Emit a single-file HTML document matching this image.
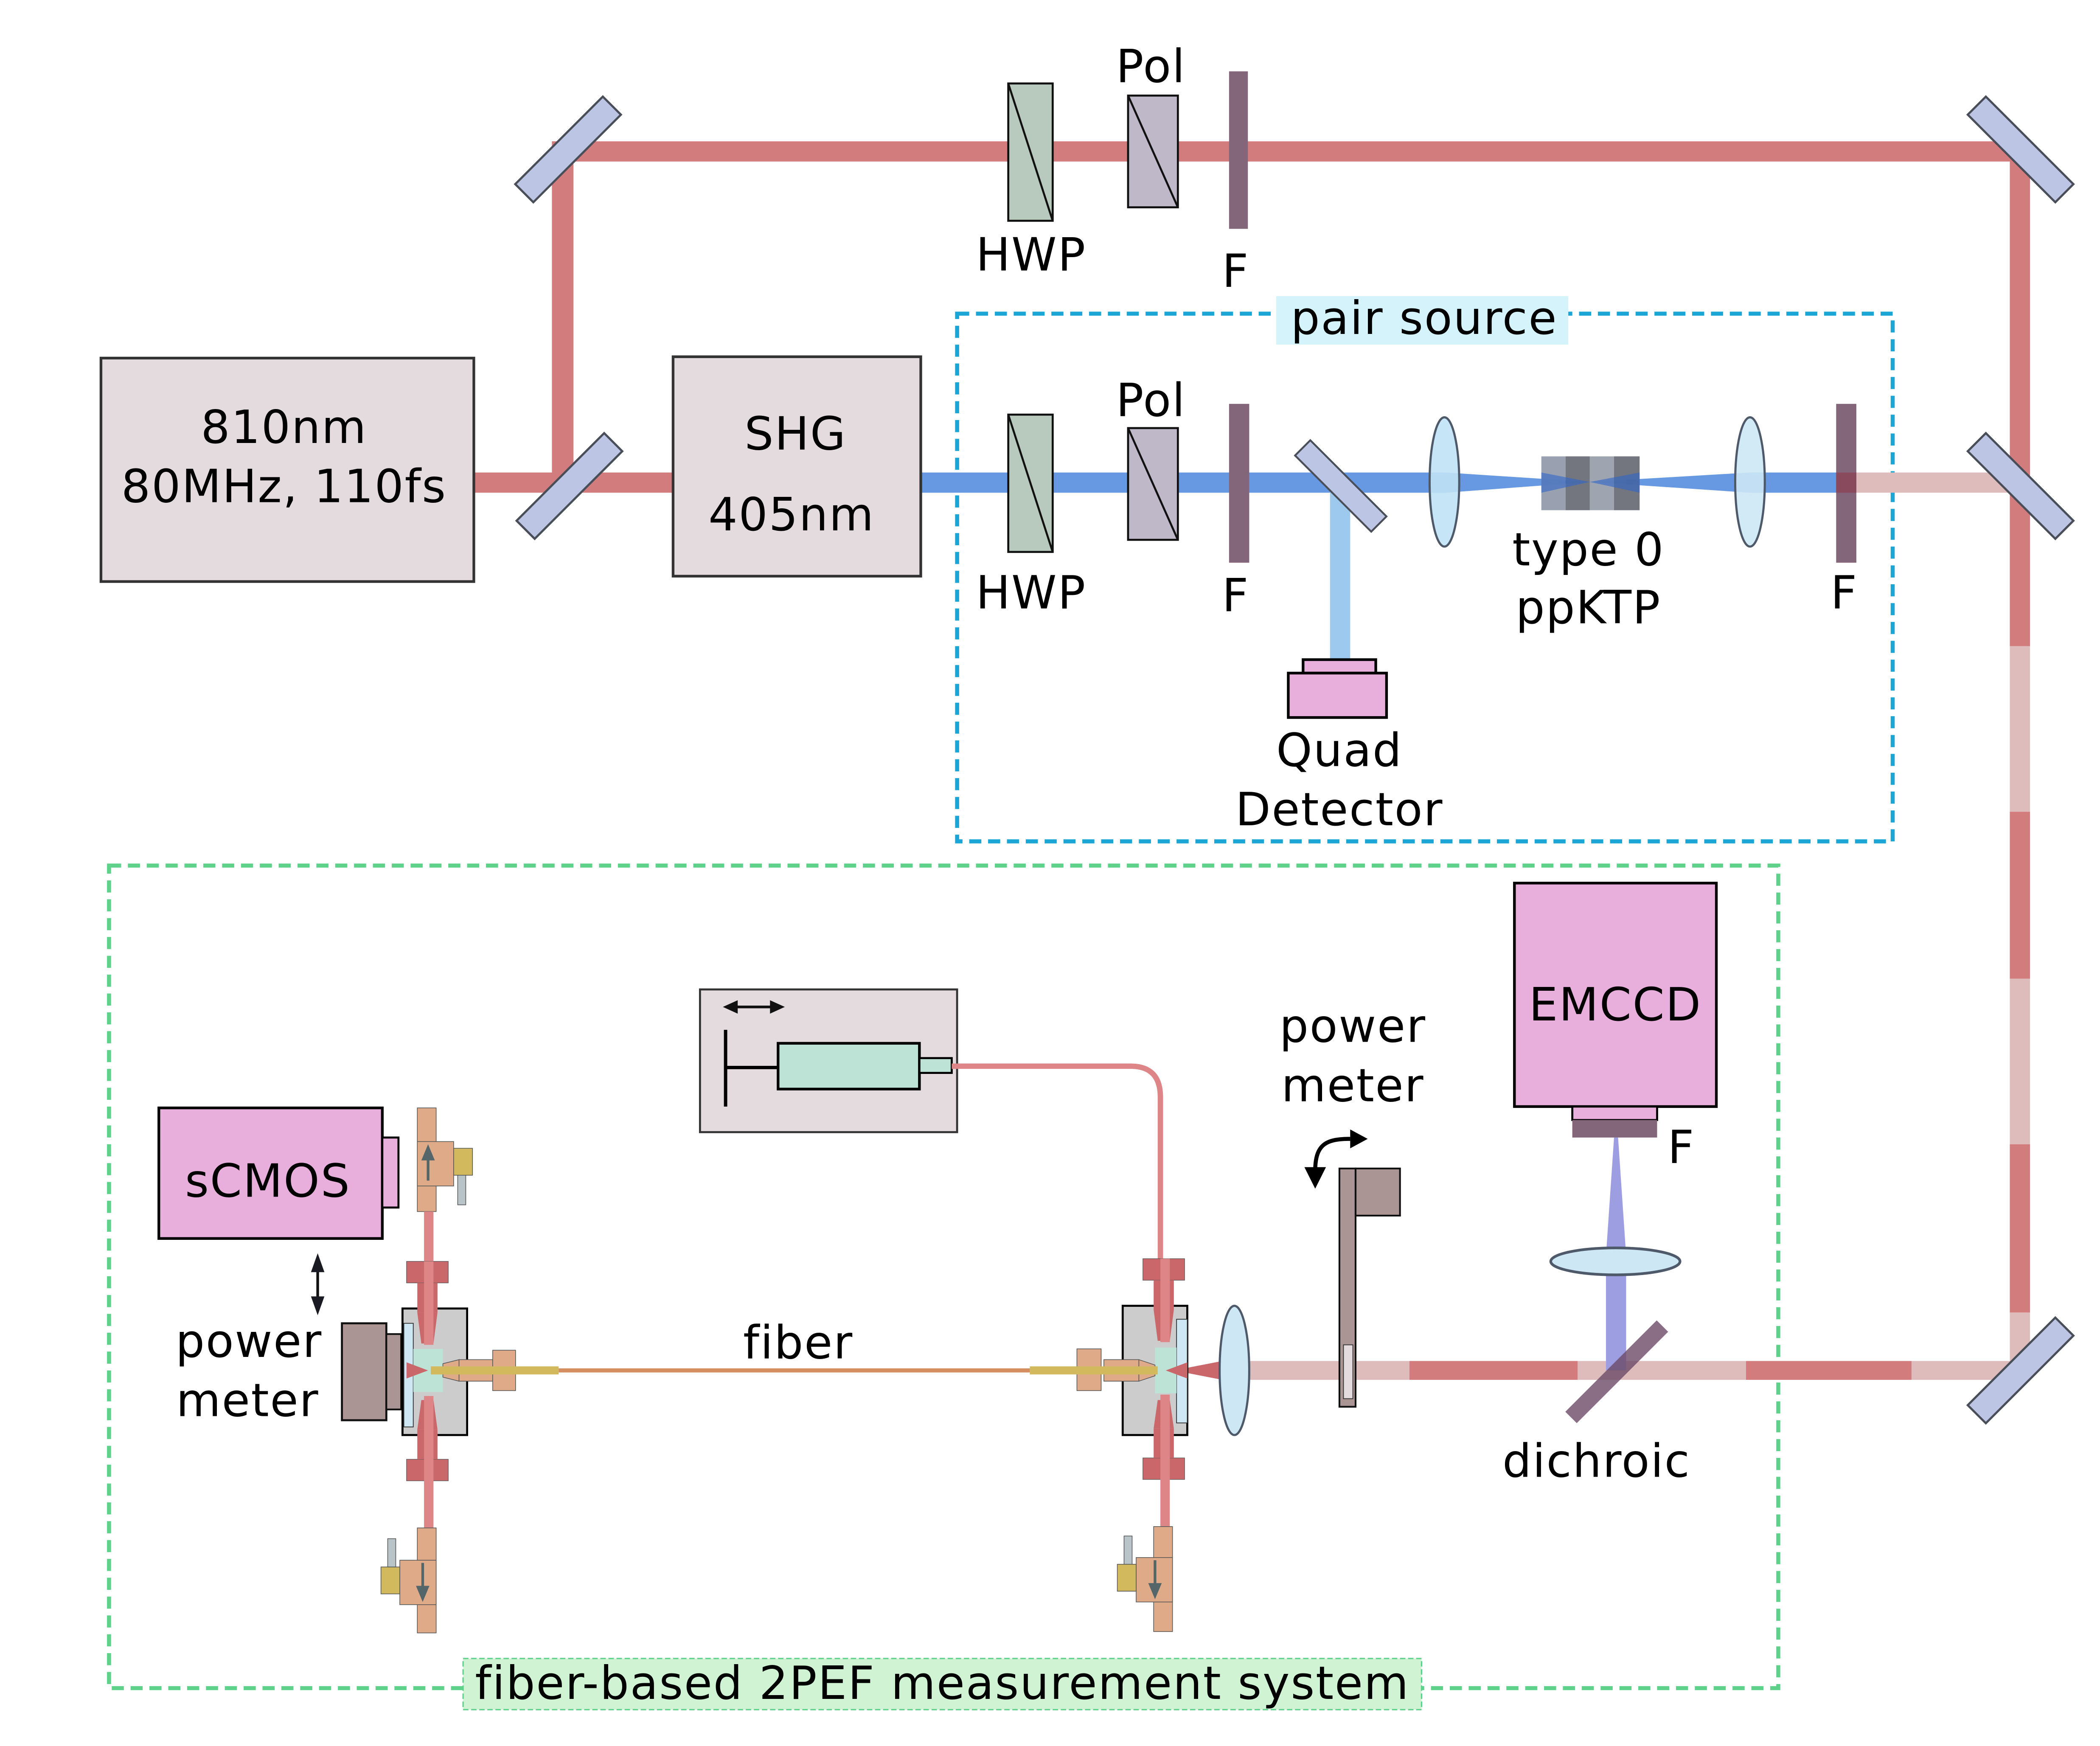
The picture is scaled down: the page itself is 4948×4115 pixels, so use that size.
<!DOCTYPE html>
<html><head><meta charset="utf-8"><style>
html,body{margin:0;padding:0;background:#fff}
svg{display:block}
text{font-family:"DejaVu Sans","Liberation Sans",sans-serif;fill:#000;letter-spacing:0.8px}
</style></head><body>
<svg width="4948" height="4115" viewBox="0 0 1560 1297" preserveAspectRatio="none" xmlns="http://www.w3.org/2000/svg">
<rect width="1560" height="1297" fill="#fff"/>
<defs>
<g id="mir"><rect x="-46" y="-9.5" width="92" height="19" fill="#bcc6e4" stroke="#4a4e58" stroke-width="1.6"/></g>
</defs>

<rect x="711" y="233" width="695" height="392" fill="none" stroke="#1ba6d6" stroke-width="3" stroke-dasharray="9,5"/>
<rect x="948" y="220" width="217" height="36" fill="#d4f3fb"/>
<text x="1058" y="248" font-size="34" text-anchor="middle">pair source</text>
<rect x="81" y="643" width="1240" height="611" fill="none" stroke="#5ed18a" stroke-width="3" stroke-dasharray="9,5"/>
<rect x="344" y="1232" width="712" height="38" fill="#d0f3d4" stroke="#5ed18a" stroke-width="1" stroke-dasharray="4,2"/>
<text x="700" y="1262" font-size="34" text-anchor="middle">fiber-based 2PEF measurement system</text>

<rect x="410" y="105" width="1098" height="15" fill="#d27c7e"/>
<rect x="410" y="105" width="16" height="260" fill="#d27c7e"/>
<rect x="352" y="351" width="148" height="15" fill="#d27c7e"/>
<rect x="1493" y="110" width="15" height="370" fill="#d27c7e"/>
<rect x="1493" y="480" width="15" height="123" fill="#dfbcbc"/>
<rect x="1493" y="603" width="15" height="124" fill="#d27c7e"/>
<rect x="1493" y="727" width="15" height="123" fill="#dfbcbc"/>
<rect x="1493" y="850" width="15" height="125" fill="#d27c7e"/>
<rect x="1493" y="975" width="15" height="50" fill="#dfbcbc"/>
<rect x="1372" y="351" width="128" height="15" fill="#dfbcbc"/>
<rect x="928" y="1011" width="119" height="14" fill="#dfbcbc"/>
<rect x="1047" y="1011" width="125" height="14" fill="#d27c7e"/>
<rect x="1172" y="1011" width="125" height="14" fill="#dfbcbc"/>
<rect x="1297" y="1011" width="123" height="14" fill="#d27c7e"/>
<rect x="1420" y="1011" width="80" height="14" fill="#dfbcbc"/>

<rect x="684" y="351" width="390" height="15" fill="#6699e2"/>
<polygon points="1074,351 1181,358 1074,366" fill="#6699e2"/>
<polygon points="1181,358 1300,351 1300,366" fill="#6699e2"/>
<rect x="1300" y="351" width="72" height="15" fill="#6699e2"/>
<rect x="988" y="363" width="15" height="128" fill="#9dc9ee"/>

<rect x="75" y="266" width="277" height="166" fill="#e3dbdd" stroke="#333" stroke-width="2"/>
<text x="211" y="329" font-size="34" text-anchor="middle">810nm</text>
<text x="211" y="373" font-size="34" text-anchor="middle">80MHz, 110fs</text>
<rect x="500" y="265" width="184" height="163" fill="#e3dbdd" stroke="#333" stroke-width="2"/>
<text x="591" y="334" font-size="34" text-anchor="middle">SHG</text>
<text x="588" y="394" font-size="34" text-anchor="middle">405nm</text>

<use href="#mir" transform="translate(422,111) rotate(-45)"/>
<use href="#mir" transform="translate(423,361) rotate(-45)"/>
<use href="#mir" transform="translate(1501,111) rotate(45)"/>
<use href="#mir" transform="translate(1501,361) rotate(45)"/>
<use href="#mir" transform="translate(1501,1018) rotate(-45)"/>
<rect x="-40" y="-8" width="80" height="16" fill="#bcc6e4" stroke="#4a4e58" stroke-width="1.4" transform="translate(996,361) rotate(45)"/>

<rect x="749" y="62" width="33" height="102" fill="#b8c9bd" stroke="#111" stroke-width="1.5"/>
<line x1="749" y1="62" x2="782" y2="164" stroke="#111" stroke-width="1.5"/>
<rect x="838" y="71" width="37" height="83" fill="#bfb8c9" stroke="#111" stroke-width="1.5"/>
<line x1="838" y1="71" x2="875" y2="154" stroke="#111" stroke-width="1.5"/>
<rect x="913" y="53" width="14" height="117" fill="#84667b"/>
<text x="766" y="201" font-size="34" text-anchor="middle">HWP</text>
<text x="855" y="61" font-size="34" text-anchor="middle">Pol</text>
<text x="918" y="213" font-size="34" text-anchor="middle">F</text>

<rect x="749" y="308" width="33" height="102" fill="#b8c9bd" stroke="#111" stroke-width="1.5"/>
<line x1="749" y1="308" x2="782" y2="410" stroke="#111" stroke-width="1.5"/>
<rect x="838" y="318" width="37" height="83" fill="#bfb8c9" stroke="#111" stroke-width="1.5"/>
<line x1="838" y1="318" x2="875" y2="401" stroke="#111" stroke-width="1.5"/>
<rect x="913" y="300" width="15" height="118" fill="#84667b"/>
<text x="766" y="452" font-size="34" text-anchor="middle">HWP</text>
<text x="855" y="309" font-size="34" text-anchor="middle">Pol</text>
<text x="918" y="454" font-size="34" text-anchor="middle">F</text>

<ellipse cx="1073" cy="358" rx="11" ry="48" fill="#c0e2f5" stroke="#4e5a6a" stroke-width="1.6" fill-opacity="0.9"/>
<rect x="1145" y="339" width="18" height="40" fill="#939cac" opacity="0.95"/>
<rect x="1163" y="339" width="18" height="40" fill="#6b6f78" opacity="0.95"/>
<rect x="1181" y="339" width="18" height="40" fill="#999fac" opacity="0.95"/>
<rect x="1199" y="339" width="19" height="40" fill="#6b6f78" opacity="0.95"/>
<polygon points="1145,351 1181,358 1145,366" fill="#2f66c8" opacity="0.6"/>
<polygon points="1181,358 1218,351 1218,366" fill="#2f66c8" opacity="0.6"/>
<ellipse cx="1300" cy="358" rx="11" ry="48" fill="#cde7f5" stroke="#4e5a6a" stroke-width="1.6" fill-opacity="0.9"/>
<rect x="1364" y="300" width="15" height="118" fill="#84667b"/>
<rect x="1364" y="351" width="15" height="15" fill="#8a4a5e"/>
<text x="1180" y="420" font-size="34" text-anchor="middle">type 0</text>
<text x="1180" y="463" font-size="34" text-anchor="middle">ppKTP</text>
<text x="1370" y="452" font-size="34" text-anchor="middle">F</text>

<rect x="968" y="490" width="54" height="10" fill="#e8aedc" stroke="#000" stroke-width="2"/>
<rect x="957" y="500" width="73" height="33" fill="#e8aedc" stroke="#000" stroke-width="2"/>
<text x="995" y="569" font-size="34" text-anchor="middle">Quad</text>
<text x="995" y="613" font-size="34" text-anchor="middle">Detector</text>

<rect x="1125" y="656" width="150" height="166" fill="#e8aedc" stroke="#000" stroke-width="2"/>
<text x="1200" y="758" font-size="34" text-anchor="middle">EMCCD</text>
<rect x="1168" y="822" width="63" height="10" fill="#e8aedc" stroke="#000" stroke-width="1.5"/>
<rect x="1168" y="832" width="63" height="13" fill="#84667b"/>
<text x="1249" y="864" font-size="34" text-anchor="middle">F</text>
<polygon points="1199,845 1202,845 1208,933 1193,933" fill="#9d9ee2"/>
<rect x="1193" y="942" width="15" height="76" fill="#9d9ee2"/>
<ellipse cx="1200" cy="937" rx="48" ry="10" fill="#cde7f5" stroke="#4e5a6a" stroke-width="2"/>
<rect x="-48" y="-6" width="96" height="12" fill="#6b4a66" opacity="0.8" transform="translate(1201,1019) rotate(-45)"/>
<text x="1186" y="1097" font-size="34" text-anchor="middle">dichroic</text>

<rect x="995" y="868" width="12" height="177" fill="#aa9494" stroke="#111" stroke-width="1.3"/>
<rect x="1007" y="868" width="33" height="35" fill="#aa9494" stroke="#111" stroke-width="1.3"/>
<rect x="998" y="999" width="7" height="40" fill="#e3dbdd" stroke="#333" stroke-width="0.6"/>
<path d="M977,870 C977,850 985,846 1003,846" fill="none" stroke="#000" stroke-width="3"/>
<polygon points="1003,839 1016,846 1003,853" fill="#000"/>
<polygon points="969,867 985,867 977,883" fill="#000"/>
<text x="1005" y="774" font-size="34" text-anchor="middle">power</text>
<text x="1005" y="818" font-size="34" text-anchor="middle">meter</text>

<polygon points="872,1018 908,1011 908,1025" fill="#c9676b"/>
<ellipse cx="917" cy="1018" rx="11" ry="48" fill="#cde7f5" stroke="#4e5a6a" stroke-width="1.6"/>

<rect x="520" y="735" width="191" height="106" fill="#e3dbdd" stroke="#333" stroke-width="1.5"/>
<line x1="539" y1="765" x2="539" y2="822" stroke="#000" stroke-width="2.5"/>
<line x1="539" y1="793" x2="578" y2="793" stroke="#000" stroke-width="2.5"/>
<rect x="578" y="775" width="105" height="34" fill="#bde3d6" stroke="#000" stroke-width="2"/>
<rect x="683" y="786" width="24" height="11" fill="#bde3d6" stroke="#000" stroke-width="1.5"/>
<line x1="545" y1="748" x2="575" y2="748" stroke="#111" stroke-width="2"/>
<polygon points="537,748 548,743 548,753" fill="#111"/>
<polygon points="583,748 572,743 572,753" fill="#111"/>
<path d="M707,792 L840,792 Q862,792 862,815 L862,970" fill="none" stroke="#de8587" stroke-width="4"/>

<line x1="415" y1="1018" x2="765" y2="1018" stroke="#d48e60" stroke-width="3"/>
<text x="593" y="1009" font-size="34" text-anchor="middle">fiber</text>

<rect x="118" y="823" width="166" height="97" fill="#e8aedc" stroke="#000" stroke-width="2"/>
<rect x="284" y="845" width="12" height="52" fill="#e8aedc" stroke="#000" stroke-width="1.5"/>
<text x="199" y="889" font-size="34" text-anchor="middle">sCMOS</text>
<line x1="236" y1="942" x2="236" y2="965" stroke="#111" stroke-width="2"/>
<polygon points="236,931 231,945 241,945" fill="#1a1a22"/>
<polygon points="236,977 231,963 241,963" fill="#1a1a22"/>
<text x="185" y="1008" font-size="34" text-anchor="middle">power</text>
<text x="184" y="1052" font-size="34" text-anchor="middle">meter</text>
<rect x="254" y="983" width="33" height="72" fill="#aa9494" stroke="#111" stroke-width="1.5"/>
<rect x="287" y="991" width="11" height="56" fill="#aa9494" stroke="#111" stroke-width="1.3"/>

<g>
<rect x="310" y="823" width="14" height="77" fill="#dfaa88" stroke="#555" stroke-width="0.5"/>
<rect x="310" y="848" width="27" height="33" fill="#dfaa88" stroke="#555" stroke-width="0.5"/>
<rect x="337" y="853" width="14" height="20" fill="#d2b95d" stroke="#555" stroke-width="0.5"/>
<rect x="340" y="873" width="6" height="22" fill="#b8c4c8" stroke="#555" stroke-width="0.5"/>
<line x1="318" y1="877" x2="318" y2="858" stroke="#55666a" stroke-width="2"/>
<polygon points="318,850 313,862 323,862" fill="#55666a"/>
<rect x="315" y="900" width="7" height="40" fill="#de8587"/>
<rect x="299" y="972" width="48" height="94" fill="#cccccc" stroke="#000" stroke-width="1.5"/>
<rect x="302" y="937" width="31" height="16" fill="#c9676b" stroke="#555" stroke-width="0.4"/>
<rect x="310" y="953" width="15" height="22" fill="#c9676b"/>
<polygon points="310,975 325,975 322,998 313,998" fill="#c9676b"/>
<rect x="302" y="1084" width="31" height="16" fill="#c9676b" stroke="#555" stroke-width="0.4"/>
<rect x="310" y="1062" width="15" height="22" fill="#c9676b"/>
<polygon points="310,1062 325,1062 322,1040 313,1040" fill="#c9676b"/>
<rect x="300" y="983" width="7" height="77" fill="#cde7f5" stroke="#333" stroke-width="0.6"/>
<rect x="307" y="1002" width="22" height="32" fill="#bde3d6"/>
<polygon points="302,1012 318,1018 302,1024" fill="#c9676b"/>
<rect x="315" y="937" width="7" height="62" fill="#de8587"/>
<rect x="315" y="1037" width="7" height="100" fill="#de8587"/>
<polygon points="329,1013 341,1010 341,1026 329,1023" fill="#dfaa88" stroke="#555" stroke-width="0.5"/>
<rect x="341" y="1010" width="25" height="16" fill="#dfaa88" stroke="#555" stroke-width="0.5"/>
<rect x="366" y="1003" width="17" height="30" fill="#dfaa88" stroke="#555" stroke-width="0.5"/>
<rect x="320" y="1015" width="95" height="6" fill="#d2b95d"/>
<rect x="310" y="1135" width="14" height="78" fill="#dfaa88" stroke="#555" stroke-width="0.5"/>
<rect x="297" y="1159" width="27" height="33" fill="#dfaa88" stroke="#555" stroke-width="0.5"/>
<rect x="283" y="1164" width="14" height="20" fill="#d2b95d" stroke="#555" stroke-width="0.5"/>
<rect x="288" y="1143" width="6" height="21" fill="#b8c4c8" stroke="#555" stroke-width="0.5"/>
<line x1="314" y1="1161" x2="314" y2="1182" stroke="#55666a" stroke-width="2"/>
<polygon points="314,1190 309,1178 319,1178" fill="#55666a"/>
</g>

<g>
<rect x="834" y="970" width="48" height="96" fill="#cccccc" stroke="#000" stroke-width="1.5"/>
<rect x="849" y="935" width="31" height="16" fill="#c9676b" stroke="#555" stroke-width="0.4"/>
<rect x="857" y="951" width="15" height="22" fill="#c9676b"/>
<polygon points="857,973 872,973 869,996 860,996" fill="#c9676b"/>
<rect x="849" y="1083" width="31" height="16" fill="#c9676b" stroke="#555" stroke-width="0.4"/>
<rect x="857" y="1061" width="15" height="22" fill="#c9676b"/>
<polygon points="857,1061 872,1061 869,1040 860,1040" fill="#c9676b"/>
<rect x="874" y="980" width="8" height="77" fill="#cde7f5" stroke="#333" stroke-width="0.6"/>
<rect x="858" y="1001" width="16" height="34" fill="#bde3d6"/>
<polygon points="882,1012 866,1018 882,1024" fill="#c9676b"/>
<rect x="862" y="935" width="7" height="62" fill="#de8587"/>
<rect x="862" y="1036" width="7" height="100" fill="#de8587"/>
<polygon points="858,1014 846,1010 846,1026 858,1022" fill="#dfaa88" stroke="#555" stroke-width="0.5"/>
<rect x="820" y="1010" width="26" height="16" fill="#dfaa88" stroke="#555" stroke-width="0.5"/>
<rect x="800" y="1002" width="18" height="31" fill="#dfaa88" stroke="#555" stroke-width="0.5"/>
<rect x="765" y="1015" width="95" height="6" fill="#d2b95d"/>
<rect x="857" y="1134" width="14" height="78" fill="#dfaa88" stroke="#555" stroke-width="0.5"/>
<rect x="844" y="1157" width="27" height="33" fill="#dfaa88" stroke="#555" stroke-width="0.5"/>
<rect x="830" y="1162" width="14" height="20" fill="#d2b95d" stroke="#555" stroke-width="0.5"/>
<rect x="835" y="1141" width="6" height="21" fill="#b8c4c8" stroke="#555" stroke-width="0.5"/>
<line x1="858" y1="1159" x2="858" y2="1180" stroke="#55666a" stroke-width="2"/>
<polygon points="858,1188 853,1176 863,1176" fill="#55666a"/>
</g>
</svg>
</body></html>
